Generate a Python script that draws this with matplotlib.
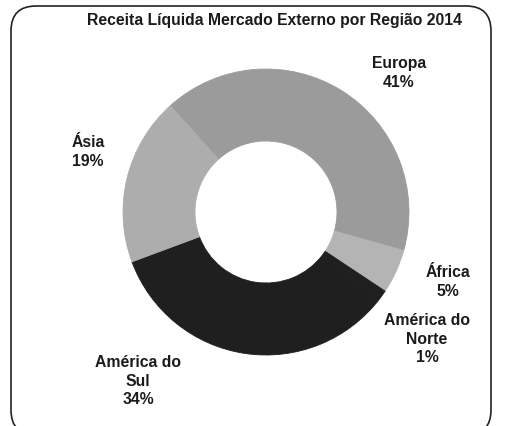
import matplotlib
matplotlib.use("Agg")
import matplotlib.pyplot as plt
from matplotlib.patches import FancyBboxPatch

# data
regions = ["Europa", "África", "América do\nNorte", "América do\nSul", "Ásia"]
shares = [41, 5, 1, 34, 19]
colors = ["#9b9b9b", "#b4b4b4", "#1f1f1f", "#1f1f1f", "#adadad"]
title = "Receita Líquida Mercado Externo por Região 2014"

W, H = 509, 426
fig = plt.figure(figsize=(W / 100, H / 100), dpi=100)
ax = fig.add_axes([0, 0, 1, 1])
plt.rcParams['font.family'] = ['Liberation Sans', 'DejaVu Sans']

# donut, placed in pixel coords (y up)
cx, cy, r = 266, H - 212, 143
wedges, _ = ax.pie(shares, colors=colors, startangle=132, counterclock=False,
                   center=(cx, cy), radius=r, wedgeprops=dict(width=72, linewidth=0.6))
# edge in the same colour hides the antialiasing seam between slices
for w in wedges:
    w.set_edgecolor(w.get_facecolor())
ax.set_xlim(0, W)
ax.set_ylim(0, H)
ax.set_aspect("equal")
ax.axis("off")

# labels (pixel positions from the top)
label_pos = [(399, 73), (448, 282), (427, 339), (138, 381), (88, 152)]
for name, val, (x, y) in zip(regions, shares, label_pos):
    ax.text(x, H - y, "{}\n{}%".format(name, val), ha="center", va="center",
            fontsize=11.3, fontweight="bold", color="#1a1a1a", linespacing=1.32)

ax.text(275, H - 20, title, ha="center", va="center", fontsize=11.3,
        fontweight="bold", color="#1a1a1a")

# rounded frame around everything
frame = FancyBboxPatch((11, -9), 480, 429, boxstyle="round,pad=0,rounding_size=25",
                       fill=False, edgecolor="#222222", linewidth=1.2, clip_on=False)
ax.add_patch(frame)

fig.savefig("out.png", dpi=100)
